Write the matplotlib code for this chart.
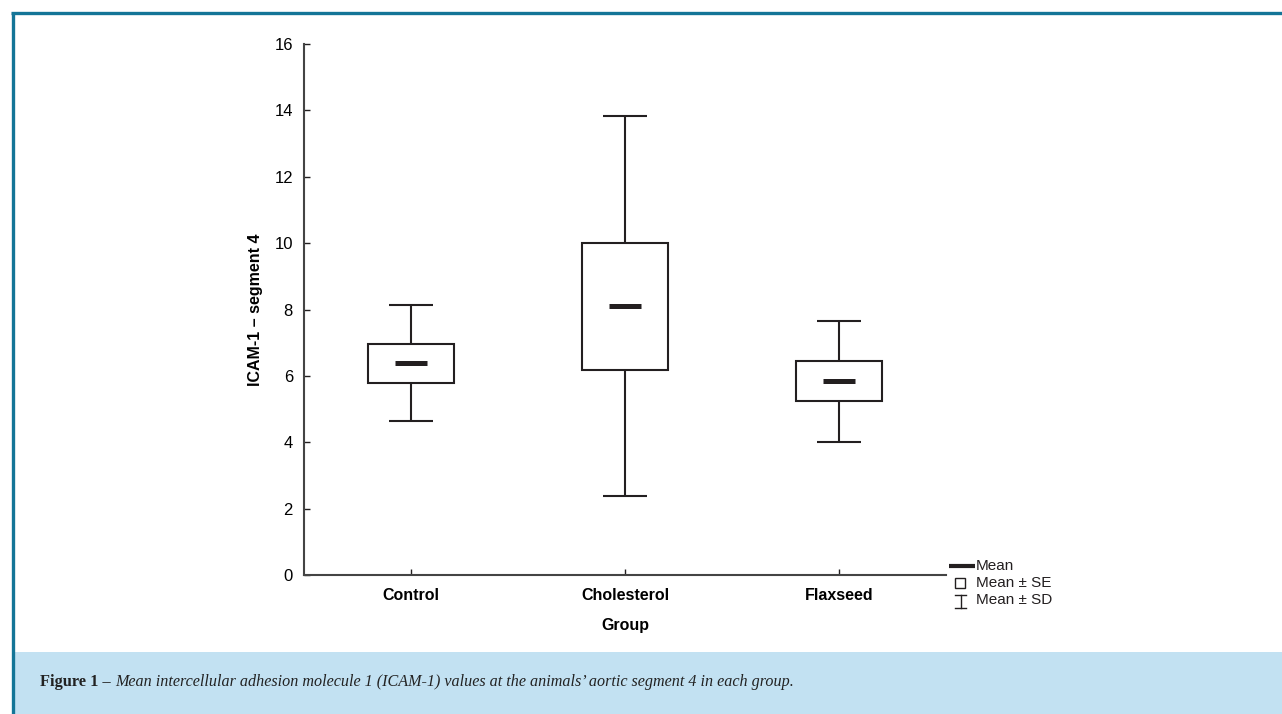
import matplotlib.pyplot as plt
from matplotlib.lines import Line2D
from matplotlib.patches import Rectangle

groups = ["Control", "Cholesterol", "Flaxseed"]
group_mean = [6.38, 8.10, 5.84]
group_se = [0.58, 1.91, 0.61]
group_sd = [1.75, 5.73, 1.82]

y_ticks = [0, 2, 4, 6, 8, 10, 12, 14, 16]

INK = "#231f20"
FRAME = "#137597"
CAPTION_BG = "#c2e1f2"

plt.rcParams["font.family"] = ["Liberation Sans", "DejaVu Sans"]

fig = plt.figure(figsize=(12.82, 7.14), dpi=100)
W, H = 1282, 714


def fx(px):
    return px / W


def fy(py):
    return 1 - py / H


# page frame and caption panel
fig.add_artist(Rectangle((fx(14), 0), 1 - fx(14), fy(652), transform=fig.transFigure,
                         facecolor=CAPTION_BG, edgecolor="none", zorder=0))
fig.add_artist(Line2D([fx(12.5), fx(12.5)], [0, fy(12.5)], transform=fig.transFigure,
                      color=FRAME, linewidth=2.4, solid_capstyle="butt"))
fig.add_artist(Line2D([fx(11), 1], [fy(12.5), fy(12.5)], transform=fig.transFigure,
                      color=FRAME, linewidth=2.4, solid_capstyle="butt"))

ax = fig.add_axes([fx(304), fy(575), fx(946) - fx(304), (575 - 44) / H])

x = list(range(len(groups)))
box_w = 0.40
cap_w = 0.21
mean_w = 0.15

se_low = [m - s for m, s in zip(group_mean, group_se)]
se_high = [m + s for m, s in zip(group_mean, group_se)]
sd_low = [m - s for m, s in zip(group_mean, group_sd)]
sd_high = [m + s for m, s in zip(group_mean, group_sd)]

# whiskers (mean +/- SD)
ax.vlines(x, se_high, sd_high, color=INK, linewidth=1.5, zorder=2)
ax.vlines(x, sd_low, se_low, color=INK, linewidth=1.5, zorder=2)
ax.hlines(sd_high, [i - cap_w / 2 for i in x], [i + cap_w / 2 for i in x],
          color=INK, linewidth=1.5, zorder=2)
ax.hlines(sd_low, [i - cap_w / 2 for i in x], [i + cap_w / 2 for i in x],
          color=INK, linewidth=1.5, zorder=2)

# boxes (mean +/- SE)
ax.bar(x, [h - l for h, l in zip(se_high, se_low)], bottom=se_low, width=box_w,
       facecolor="white", edgecolor=INK, linewidth=1.5, zorder=3)

# mean markers
ax.hlines(group_mean, [i - mean_w / 2 for i in x], [i + mean_w / 2 for i in x],
          color=INK, linewidth=3.6, zorder=4)

ax.set_xlim(-0.5, 2.5)
ax.set_ylim(0, 16)
ax.set_yticks(y_ticks)
ax.set_xticks(x)
ax.set_xticklabels(groups, fontweight="bold", fontsize=11.5)
ax.tick_params(axis="y", labelsize=12, direction="in", length=4, width=1, color=INK, pad=8)
ax.tick_params(axis="x", direction="in", length=4, width=1, color=INK, pad=9)
for side in ["top", "right"]:
    ax.spines[side].set_visible(False)
for side in ["left", "bottom"]:
    ax.spines[side].set_color("#444444")
    ax.spines[side].set_linewidth(1.5)

ax.set_xlabel("Group", fontweight="bold", fontsize=11.5, labelpad=11)
ax.set_ylabel("ICAM-1 \u2013 segment 4", fontweight="bold", fontsize=11.5, labelpad=8)

# legend
fig.add_artist(Line2D([fx(949), fx(975)], [fy(566), fy(566)], transform=fig.transFigure,
                      color=INK, linewidth=3, solid_capstyle="butt"))
fig.text(fx(976), fy(566), "Mean", fontsize=11, va="center", ha="left", color=INK)
fig.add_artist(Rectangle((fx(955), fy(588)), fx(10), 10 / H, transform=fig.transFigure,
                         facecolor="white", edgecolor=INK, linewidth=1))
fig.text(fx(976), fy(583), "Mean \u00b1 SE", fontsize=11, va="center", ha="left", color=INK)
fig.add_artist(Line2D([fx(960.5), fx(960.5)], [fy(595), fy(608)], transform=fig.transFigure,
                      color=INK, linewidth=1))
fig.add_artist(Line2D([fx(955), fx(966)], [fy(595), fy(595)], transform=fig.transFigure,
                      color=INK, linewidth=1))
fig.add_artist(Line2D([fx(955), fx(966)], [fy(608), fy(608)], transform=fig.transFigure,
                      color=INK, linewidth=1))
fig.text(fx(976), fy(600), "Mean \u00b1 SD", fontsize=11, va="center", ha="left", color=INK)

# caption
renderer = fig.canvas.get_renderer()
cap1 = fig.text(fx(40), fy(682), "Figure 1 \u2013 ", fontsize=11.8, fontweight="bold",
                family="Liberation Serif", va="center", ha="left", color="#222222")
bb = cap1.get_window_extent(renderer=renderer)
fig.text(bb.x1 / W, fy(682),
         "Mean intercellular adhesion molecule 1 (ICAM-1) values at the animals\u2019 "
         "aortic segment 4 in each group.",
         fontsize=11.6, style="italic", family="Liberation Serif", va="center", ha="left",
         color="#222222")

fig.savefig("out.png", dpi=100)
